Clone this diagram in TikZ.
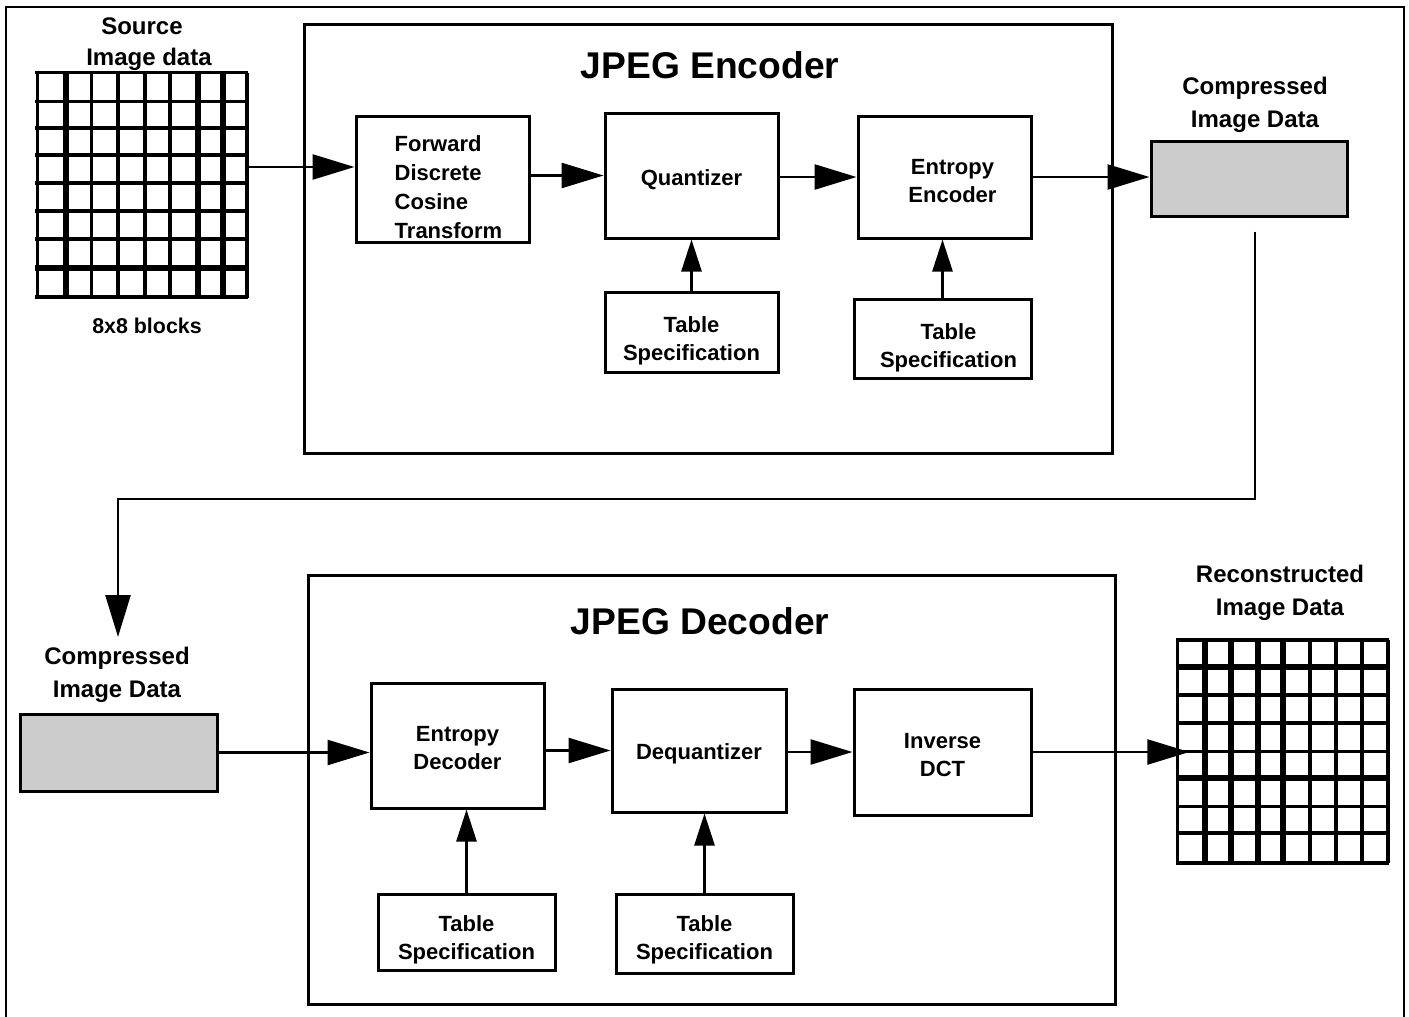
\documentclass[tikz,border=0pt]{standalone}
\usepackage{fontspec}
\setmainfont{Liberation Sans}
\usetikzlibrary{arrows.meta}
\definecolor{boxgray}{RGB}{204,204,204}
\newcommand\dnstrut[1]{\rule{0pt}{#1}}
\begin{document}
\begin{tikzpicture}[x=0.5pt,y=-0.5pt,
  blk/.style={draw, line width=1.5pt, font=\fontsize{11}{14}\selectfont\bfseries, align=center, inner sep=0pt},
  cont/.style={draw, line width=1.5pt, inner sep=0pt},
  gbox/.style={draw, line width=1.5pt, fill=boxgray, inner sep=0pt},
  arr/.style={line width=1.3pt, -{Triangle[length=21pt,width=12.5pt]}},
  uarr/.style={line width=1.3pt, -{Triangle[length=16pt,width=10pt]}},
  lbl/.style={font=\fontsize{12}{16.5}\selectfont\bfseries, align=center, inner sep=0pt},
  ttl/.style={font=\fontsize{18.6}{22}\selectfont\bfseries, inner sep=0pt},
  gthin/.style={line width=1.7pt},
  gthick/.style={line width=3.2pt}]
\useasboundingbox (0,0) rectangle (1409,1017);
% outer frame
\draw[line width=1pt] (6,1017) -- (6,7) -- (1404,7) -- (1404,1017);

% ---------- Encoder ----------
\node[cont, minimum width=404pt, minimum height=214.5pt] (enc) at (708,238.5) {};
\node[ttl] (enct) at (710,65) {JPEG Encoder};

\node[blk, minimum width=86.5pt, minimum height=63pt, align=left,
      font=\fontsize{11}{14.5}\selectfont\bfseries] (fdct) at (442.5,179)
      {\dnstrut{16pt}\hspace*{6pt}Forward\\\hspace*{6pt}Discrete\\\hspace*{6pt}Cosine\\\hspace*{6pt}Transform};
\node[blk, minimum width=86.5pt, minimum height=62.5pt] (q) at (691.5,175.5) {\dnstrut{12pt}Quantizer};
\node[blk, minimum width=86.5pt, minimum height=61pt] (ee) at (944.5,177) {\dnstrut{12pt}\hspace*{8pt}Entropy\\\hspace*{8pt}Encoder};
\node[blk, minimum width=86.5pt, minimum height=40pt] (ts1) at (691.5,332) {\dnstrut{17pt}Table\\Specification};
\node[blk, minimum width=88.5pt, minimum height=39.5pt] (ts2) at (942.5,338.5) {\dnstrut{17pt}\hspace*{6pt}Table\\\hspace*{6pt}Specification};
\node[gbox, minimum width=98pt, minimum height=37.5pt] (comp1) at (1249,178.5) {};
\node[lbl] (comp1l) at (1255,105) {Compressed\\Image Data};

% source grid
\node[inner sep=0pt, minimum width=104.65pt, minimum height=112pt] (src) at (142.35,184.85) {};
\foreach \x in {37.7,91.7,118,145,170,247} \draw[gthin] (\x,72.7) -- (\x,298);
\foreach \x in {65.7,198,223} \draw[gthick] (\x,72.7) -- (\x,298);
\foreach \y in {72.7,101.7,128,155,183,211,239,297} \draw[gthin] (35,\y) -- (248,\y);
\draw[gthick] (35,268) -- (248,268);
\node[lbl] (srcl1) at (142,26) {Source};
\node[lbl] (srcl2) at (149,59) {Image data};
\node[lbl, font=\fontsize{10.7}{13}\selectfont\bfseries] (srcl3) at (147,326) {8x8 blocks};

% encoder connectors
\coordinate (a1) at ([yshift=6pt]fdct.west);
\draw[arr] (src.east |- a1) -- (a1);
\draw[arr] (fdct.east |- q.west) -- (q.west);
\draw[arr] (q.east |- ee.west) -- (ee.west);
\draw[arr] (ee.east) -- (comp1.west |- ee.east);
\draw[uarr] (ts1.north) -- (ts1.north |- q.south);
\draw[uarr] (ts2.north) -- (ts2.north |- ee.south);

% link from encoder to decoder
\coordinate (lstart) at ([xshift=3pt,yshift=-7pt]comp1.south);
\coordinate (turn) at (118,499);
\coordinate (c2top) at (118,637);
\draw[arr] (lstart) -- (lstart |- turn) -- (turn) -- (c2top);

% ---------- Decoder ----------
\node[cont, minimum width=403.5pt, minimum height=214.5pt] (dec) at (711.5,789.5) {};
\node[ttl] (dect) at (700,621) {JPEG Decoder};

\node[gbox, minimum width=98.5pt, minimum height=38.5pt] (comp2) at (118.5,752.5) {};
\node[lbl] (comp2l) at (117,675) {Compressed\\Image Data};

\node[blk, minimum width=86.5pt, minimum height=62.5pt] (ed) at (457.5,745.5) {\dnstrut{10pt}Entropy\\Decoder};
\node[blk, minimum width=87pt, minimum height=61.5pt] (dq) at (699,750.5) {\dnstrut{11pt}Dequantizer};
\node[blk, minimum width=88.5pt, minimum height=63pt] (idct) at (942.5,752) {\dnstrut{11pt}Inverse\\DCT};
\node[blk, minimum width=88.5pt, minimum height=38pt] (ts3) at (466.5,932) {\dnstrut{16pt}Table\\Specification};
\node[blk, minimum width=88.5pt, minimum height=39.5pt] (ts4) at (704.5,933.5) {\dnstrut{14.5pt}Table\\Specification};

% reconstructed grid
\node[inner sep=0pt, minimum width=105.15pt, minimum height=111.5pt] (rec) at (1282.85,751.5) {};
\foreach \x in {1177.7,1310,1336,1362,1388} \draw[gthin] (\x,640) -- (\x,863);
\foreach \x in {1205,1231,1257.7,1283} \draw[gthick] (\x,640) -- (\x,863);
\foreach \y in {640,695,723,751.7,806.7,833,863} \draw[gthin] (1176,\y) -- (1389,\y);
\foreach \y in {666.7,778} \draw[gthick] (1176,\y) -- (1389,\y);
\node[lbl] (recl) at (1280,593) {Reconstructed\\Image Data};

% decoder connectors
\draw[arr] (comp2.east) -- (ed.west |- comp2.east);
\draw[arr] (ed.east |- dq.west) -- (dq.west);
\draw[arr] (dq.east |- idct.west) -- (idct.west);
\coordinate (rtip) at ([xshift=6pt]rec.west);
\draw[arr] (idct.east) -- (rtip |- idct.east);
\draw[uarr] (ts3.north) -- (ts3.north |- ed.south);
\draw[uarr] (ts4.north) -- (ts4.north |- dq.south);
\end{tikzpicture}
\end{document}
